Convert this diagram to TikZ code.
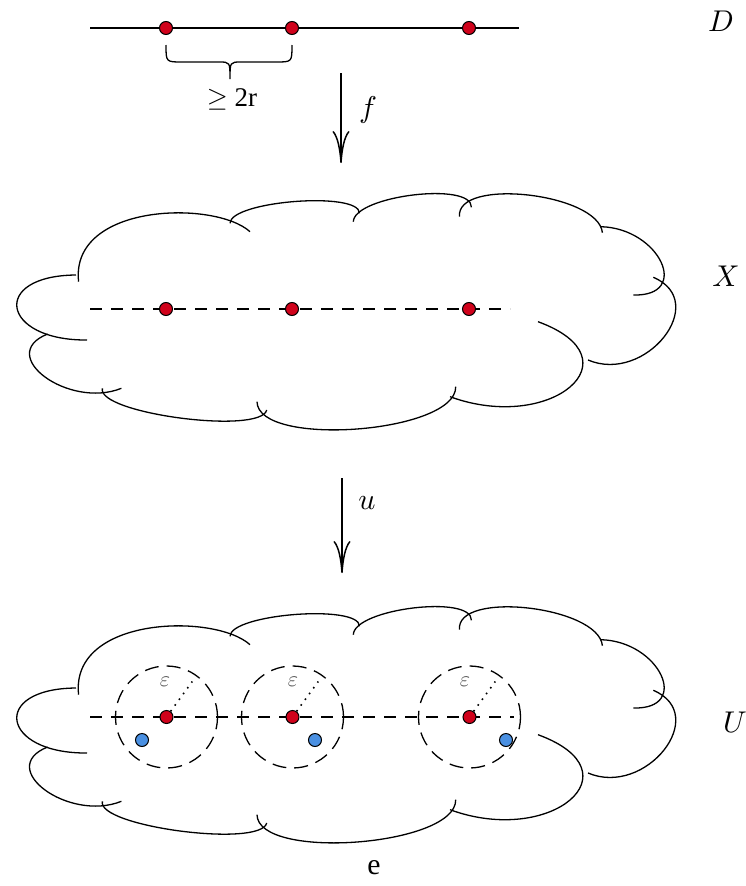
\documentclass[tikz,border=0pt]{standalone}
\usepackage{fontspec}
\newfontfamily\timesfont{Liberation Serif}
\usetikzlibrary{arrows.meta,calc}
\definecolor{dotred}{HTML}{D0021B}
\definecolor{dotblue}{HTML}{4A90E2}
\definecolor{epsgray}{HTML}{555555}
\newcommand\cloudlobe[6]{%
  \draw[cloudline] (#1,#2) .. controls ({#1+4/3*((#3)-((#1)+(#5))/2)},{#2+4/3*((#4)-((#2)+(#6))/2)}) and ({#5+4/3*((#3)-((#1)+(#5))/2)},{#6+4/3*((#4)-((#2)+(#6))/2)}) .. (#5,#6);}
\newcommand\cloudoutline{%
  \cloudlobe{76}{275}{17}{308}{87}{340}
  \cloudlobe{47.6}{334}{45}{377}{121.4}{388.3}
  \cloudlobe{102.4}{388.3}{180}{418}{266.7}{410}
  \cloudlobe{257}{401.7}{357}{429}{455.7}{386.7}
  \cloudlobe{538}{321.7}{570}{387}{450}{396.7}
  \cloudlobe{588}{360}{664}{337}{653.3}{277.3}
  \cloudlobe{633.3}{295}{661}{262}{601}{226.7}
  \cloudlobe{602.4}{232.7}{528}{195}{459.5}{216.7}
  \cloudlobe{471.4}{207.3}{413}{195}{353.3}{221.7}
  \cloudlobe{359.5}{213.3}{295}{201.5}{230}{223.3}
  \draw[cloudline] (250,231.7) .. controls (215,200) and (70,203) .. (78.6,281.7);}
\begin{document}
\begin{tikzpicture}[x=1pt,y=-1pt,
  cloudline/.style={line width=1.3pt},
  reddot/.style={circle,draw=black,line width=1pt,fill=dotred,inner sep=0pt,minimum size=13pt},
  bluedot/.style={circle,draw=black,line width=1pt,fill=dotblue,inner sep=0pt,minimum size=13pt},
  epscircle/.style={circle,draw=black,line width=1.3pt,dash pattern=on 14pt off 8pt,inner sep=0pt,minimum size=102pt},
  dashline/.style={line width=1.5pt,dash pattern=on 12pt off 9pt},
  dotline/.style={line width=1.6pt,dash pattern=on 1.6pt off 5.5pt},
  solidline/.style={line width=1.3pt},
  maparrow/.style={line width=1.5pt,-{Computer Modern Rightarrow[length=32pt,width=17pt]}},
  mathlabel/.style={scale=3,inner sep=0pt},
  textlabel/.style={font=\timesfont,scale=2.7,inner sep=0pt},
  epslabel/.style={text=epsgray,scale=2.2,inner sep=0pt}]
\useasboundingbox (0,0) rectangle (745,886);
% ---- D line
\coordinate (dl) at (90,28);
\coordinate (dr) at (519,28);
\draw[solidline] (dl) -- (dr);
\node[reddot] (d1) at (166,28) {};
\node[reddot] (d2) at (292,28) {};
\node[reddot] (d3) at (469,28) {};
\draw[solidline] (166,45) .. controls (166,62) .. (182,62) -- (219,62) .. controls (230,62) .. (230,79)
  .. controls (230,62) .. (241,62) -- (276,62) .. controls (292,62) .. (292,45);
\node[textlabel] (dist) at (232,99) {$\geq$ 2r};
\node[mathlabel] (lD) at (721,21) {$D$};
% ---- arrow f
\coordinate (fa) at (341,73);
\coordinate (fb) at (341,163);
\draw[maparrow] (fa) -- (fb);
\node[mathlabel] (lf) at (368,110) {$f$};
% ---- cloud X
\cloudoutline
\coordinate (xl) at (90,309);
\coordinate (xr) at (510,309);
\draw[dashline] (xl) -- (xr);
\node[reddot] (x1) at (166,309) {};
\node[reddot] (x2) at (292,309) {};
\node[reddot] (x3) at (469,309) {};
\node[mathlabel] (lX) at (726,276) {$X$};
% ---- arrow u
\coordinate (ua) at (342,478);
\coordinate (ub) at (342,573);
\draw[maparrow] (ua) -- (ub);
\node[mathlabel] (lu) at (367,503) {$u$};
% ---- cloud U
\begin{scope}[shift={(0,413)}]
\cloudoutline
\end{scope}
\coordinate (ul) at (90,717);
\coordinate (ur) at (514,717);
\draw[dashline] (ul) -- (ur);
\node[epscircle] (c1) at (166.5,717) {};
\node[epscircle] (c2) at (292.5,717) {};
\node[epscircle] (c3) at (469.5,717) {};
\node[reddot] (u1) at (166.5,717) {};
\node[reddot] (u2) at (292.5,717) {};
\node[reddot] (u3) at (469.5,717) {};
\draw[dotline] (u1) -- ($(u1)!0.85!(c1.54)$);
\draw[dotline] (u2) -- ($(u2)!0.85!(c2.54)$);
\draw[dotline] (u3) -- ($(u3)!0.85!(c3.54)$);
\node[epslabel] (e1) at (165,682) {$\varepsilon$};
\node[epslabel] (e2) at (293,682) {$\varepsilon$};
\node[epslabel] (e3) at (465,682) {$\varepsilon$};
\node[bluedot] (b1) at (142,740) {};
\node[bluedot] (b2) at (315,740) {};
\node[bluedot] (b3) at (506,740) {};
\node[mathlabel] (lU) at (735,722) {$U$};
\node[textlabel,scale=1.1] (le) at (374,868) {e};
\end{tikzpicture}
\end{document}
